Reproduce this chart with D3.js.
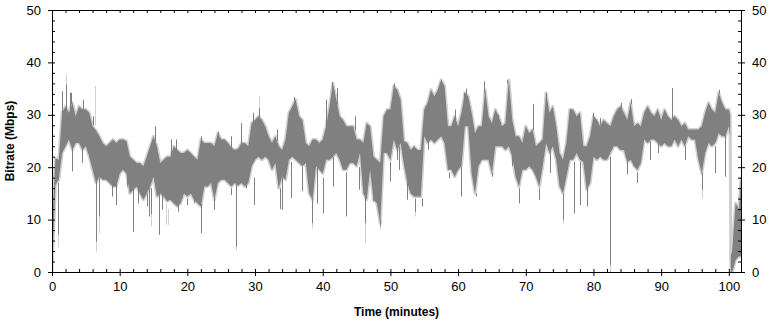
<!DOCTYPE html>
<html>
<head>
<meta charset="utf-8">
<script src="https://cdn.jsdelivr.net/npm/d3@7"></script>
<style>
  body { margin: 0; background: #fff; }
  text { font-family: "Liberation Sans", Arial, sans-serif; }
</style>
</head>
<body>
<div id="chart"></div>
<script>

// bitrate: [minute, band top, band bottom] (Mbps)
var darkBand = [[0,8,0],[0.5,21.7,16.6],[1,21.4,17.6],[1.5,30.4,22.7],[2,31.6,24],[2.5,30.4,25.3],[3,32.3,23.3],[3.5,29.7,24.6],[4,31.6,24.6],[4.5,31,23.3],[5,31,24],[5.5,30.4,22],[6,27.8,19.5],[6.5,27,17],[7,25.9,18.2],[7.5,24.6,17.6],[8,24,17.6],[8.5,24.6,17],[9,25.3,16.3],[9.5,24.6,16.3],[10,25.3,18.8],[10.5,25.3,19.5],[11,25,18.8],[11.5,22,15],[12,21.4,15.7],[12.5,20.8,16.3],[13,20.8,15],[13.5,20.2,13.8],[14,22,15],[14.5,24,16.3],[15,25.9,18.2],[15.5,24,14.4],[16,20.8,15],[16.5,21.4,14.4],[17,22,13.5],[17.5,22,13.8],[18,24,13.1],[18.5,23.3,12.5],[19,22.7,13.1],[19.5,22.7,15],[20,23.3,14.4],[20.5,22.7,15],[21,22,13.8],[21.5,21.4,13.1],[22,25.3,12.5],[22.5,24.6,16.3],[23,24.6,16.3],[23.5,24.6,17],[24,24,13.8],[24.5,26.5,17],[25,25.3,17.6],[25.5,25.3,17.6],[26,24.6,17],[26.5,23.7,16.3],[27,23.3,17],[27.5,23.5,16.5],[28,24.6,17],[28.5,24.6,16.3],[29,24,17],[29.5,28.4,20.2],[30,29,21.4],[30.5,29.7,22],[31,29,21.4],[31.5,27.8,22],[32,25.9,21.4],[32.5,24.6,19.5],[33,25.9,20.8],[33.5,24,16],[34,23.3,18.2],[34.5,25.3,17.6],[35,30.4,21.4],[35.5,31.6,22],[36,32.9,21.4],[36.5,29.7,20.8],[37,29,20.2],[37.5,24.6,20.8],[38,24,15],[38.5,25.3,13.8],[39,25.3,20.2],[39.5,24.6,19.5],[40,25.3,18.8],[40.5,27.8,21.4],[41,31.6,21.4],[41.5,36,22],[42,32.9,22.7],[42.5,29.7,21.4],[43,29,19.5],[43.5,27.8,19.5],[44,27.8,20.8],[44.5,27.8,20.8],[45,25.3,20.2],[45.5,25.3,22.7],[46,24.6,15],[46.5,28.4,13.8],[47,27.8,19.5],[47.5,22,13.8],[48,21.4,13.1],[48.5,20.8,9.3],[49,29.7,22.7],[49.5,31,22.7],[50,31,21.4],[50.5,35.5,25.3],[51,34.8,23.3],[51.5,32.9,24.6],[52,25,20.5],[52.5,24.6,17],[53,23.3,15],[53.5,24,14.4],[54,23.3,14.4],[54.5,23.3,14.4],[55,31,25.9],[55.5,32.3,24.6],[56,34.8,25.3],[56.5,33.5,24.6],[57,34.8,25.3],[57.5,36.7,25.9],[58,35.5,24.6],[58.5,27.8,19.5],[59,27.8,19.5],[59.5,29.7,18.2],[60,27.8,19.5],[60.5,30.4,20.2],[61,34.2,27.8],[61.5,33.5,27.8],[62,30.4,18.8],[62.5,26.5,15],[63,27.8,20.2],[63.5,27.8,21.4],[64,34.8,21.4],[64.5,29.7,21.4],[65,28.4,18.8],[65.5,31,24],[66,29.7,24],[66.5,27.8,24],[67,28.4,23.3],[67.5,36.7,24],[68,29,22],[68.5,25.9,18.2],[69,25.9,16.3],[69.5,24.6,19.5],[70,27.8,19.5],[70.5,26.5,20.2],[71,27.2,19.5],[71.5,24,18.2],[72,24.6,16.3],[72.5,25.3,20.2],[73,34.2,24.6],[73.5,30.4,22.7],[74,31.6,24],[74.5,27.8,21.4],[75,22.7,16.3],[75.5,21.4,15],[76,24.6,18.2],[76.5,31,21.4],[77,31,21.4],[77.5,29.7,22.7],[78,30.4,21.4],[78.5,24,21],[79,24,15.7],[79.5,25.9,17],[80,29.7,22],[80.5,29,21.4],[81,27.8,22],[81.5,29,21.4],[82,28.4,21.4],[82.5,27.8,22.7],[83,29.7,24],[83.5,31,24],[84,31.6,23.3],[84.5,30.4,23.3],[85,29,21],[85.5,32.3,21.4],[86,27.8,20.2],[86.5,28.4,19.5],[87,27.8,20.8],[87.5,30.4,25.3],[88,31.6,24.6],[88.5,30.4,25.3],[89,29.7,25.3],[89.5,31,24.6],[90,29,24],[90.5,31,24.6],[91,29.7,24],[91.5,29,24],[92,29.7,25.3],[92.5,29,24],[93,27.8,25.3],[93.5,28.4,24],[94,27.2,25.9],[94.5,27.2,25.3],[95,27.2,25.3],[95.5,27.2,21.4],[96,27.8,18.8],[96.5,30.4,22.7],[97,32.3,24.6],[97.5,31,24],[98,30.4,24.6],[98.5,34.2,26.5],[99,32.3,25.9],[99.5,31,25.9],[100,31,27.8],[100.2,30,26],[100.3,3,0],[100.5,4.2,0],[101,13.1,2.3],[101.5,12,3],[101.8,18,3]];

// single spikes off the band: [minute, from, to]
var darkSpikes = [[0.9,17,7.1],[1.5,28,34.5],[2.1,31,35.8],[2.6,30,34.2],[2.8,32,34.2],[3,24,19.2],[4.5,24,20.8],[4.6,30,32.9],[6,28,29.7],[6.45,20,5.8],[6.9,18,10.6],[8.8,18,14.4],[9.5,17,12.8],[11.1,19,16.3],[12,16,7.7],[12.7,16,13.1],[14,15,12.5],[14,21,22.4],[14.4,16,10.6],[14.6,16,11],[15.2,25,27.8],[15.8,15,7.1],[16.2,15,11.9],[17.6,21,25.3],[18.3,23,25.3],[18.6,13,11.5],[20,14,12.8],[21,14,13.1],[22,13,7.4],[22,24,25.9],[24,14,11.9],[24.5,26,26.8],[26.4,16,14.7],[26.4,23,25.9],[27.2,17,4.8],[27.9,24,28.4],[28.6,17,16],[29.7,28,30.4],[29.8,18,12.8],[30.6,29,31.3],[33.2,25,27.2],[33.7,16,12],[34,18,11.9],[35.3,21,14.1],[35.7,31,33.4],[37,20,15.4],[38.4,14,9.3],[39.2,20,13.1],[40,18,11.2],[40.5,27,32.9],[41.4,35,36.2],[41.5,22,16.3],[42.1,32,35.1],[43.5,19,10.6],[44.8,27,29.7],[45.3,20,15.7],[46.2,15,9.3],[47.4,14,13.5],[48,13,13.8],[48.4,10,8.7],[50,21,17.3],[50.6,35,36],[51,25,21.4],[51.3,24,19.5],[52.5,17,13.8],[53.6,14,11.5],[54.6,14,12.5],[55.6,25,23.3],[57.5,36,36.6],[58.7,19,17.9],[59.6,29,31],[60.4,20,14.4],[60.9,30,34.2],[61.2,33,35],[62.7,15,14.4],[63.9,34,36.4],[65,19,18.2],[65.9,29,30],[67.3,36,36.6],[68,22,20.2],[69,16,13.1],[71.1,27,32],[72,16,13.8],[73,33,34.2],[73.6,23,18.9],[75.5,15,9.9],[76.6,30,31],[77.1,21,11.2],[78,21,12.8],[79,16,12.5],[79.9,29,30.4],[80.9,28,29.4],[82.4,22,1.3],[84,31,32.3],[85,21,18.6],[85.5,32,33],[86.5,19,17],[88.3,25,21.4],[89.5,25,22.7],[91.6,29,35.1],[93.5,24,21.4],[96.1,19,15.7],[98,24,18.9],[98.6,34,34.8],[99.4,26,18.2],[101.8,4,18.2]];
var lightSpikes = [[0.9,7,4.8],[2.1,35.8,37.7],[6.45,5.8,3.9],[6.4,28,35.5],[6.9,10.6,7.4],[14.6,11,8.7],[16.9,13,9],[17.2,12,9],[27.2,4.8,4.2],[30.6,31,33.5],[38.4,9.3,8.3],[46.2,9.3,5.5],[48.4,8.7,8.1],[53.6,12,10.6],[75.5,10,9.2],[82.4,1.3,0],[96.1,15.7,14]];

var xTicks = [0, 10, 20, 30, 40, 50, 60, 70, 80, 90, 100];
var yTicks = [0, 10, 20, 30, 40, 50];
var xLabel = 'Time (minutes)';
var yLabel = 'Bitrate (Mbps)';

var W = 774, H = 321;
var margin = { left: 52, right: 741, top: 10, bottom: 272 };

var svg = d3.select('#chart').append('svg')
    .attr('width', W)
    .attr('height', H);

var xScale = d3.scaleLinear().domain([0, 101.8]).range([margin.left, margin.right]);
var yScale = d3.scaleLinear().domain([0, 50]).range([margin.bottom, margin.top]);

var xMinor = d3.range(0, 101, 2);
var yMinor = d3.range(0, 51, 2);

svg.append('clipPath').attr('id', 'plot')
    .append('rect')
    .attr('x', margin.left).attr('y', margin.top)
    .attr('width', margin.right - margin.left).attr('height', margin.bottom - margin.top);

var plot = svg.append('g').attr('clip-path', 'url(#plot)');

var band = d3.area()
    .x(d => xScale(d[0]))
    .y0(d => yScale(d[2]))
    .y1(d => yScale(d[1]));

// light fringe round the band
plot.append('path')
    .datum(darkBand)
    .attr('fill', '#d0d0d0')
    .attr('stroke', '#d0d0d0')
    .attr('stroke-width', 3)
    .attr('stroke-linejoin', 'round')
    .attr('d', band);

plot.selectAll('line.lspike').data(lightSpikes)
    .enter().append('line')
    .attr('class', 'lspike')
    .attr('x1', d => Math.round(xScale(d[0])) + 0.5)
    .attr('x2', d => Math.round(xScale(d[0])) + 0.5)
    .attr('y1', d => yScale(d[1]))
    .attr('y2', d => yScale(d[2]))
    .attr('stroke', '#d0d0d0');

plot.append('path')
    .datum(darkBand)
    .attr('fill', '#808080')
    .attr('d', band);

plot.selectAll('line.dspike').data(darkSpikes)
    .enter().append('line')
    .attr('class', 'dspike')
    .attr('x1', d => Math.round(xScale(d[0])) + 0.5)
    .attr('x2', d => Math.round(xScale(d[0])) + 0.5)
    .attr('y1', d => yScale(d[1]))
    .attr('y2', d => yScale(d[2]))
    .attr('stroke', '#808080');

// axes: labelled outward ticks, plus inward minor ticks on all four sides
function noDomain(g) { g.select('.domain').remove(); }

svg.append('g')
    .attr('transform', 'translate(' + margin.left + ',0)')
    .call(d3.axisLeft(yScale).tickValues(yTicks).tickSize(4).tickPadding(7))
    .call(noDomain);
svg.append('g')
    .attr('transform', 'translate(' + margin.left + ',0)')
    .call(d3.axisRight(yScale).tickValues(yMinor).tickSize(3).tickFormat(''))
    .call(noDomain);

svg.append('g')
    .attr('transform', 'translate(' + margin.right + ',0)')
    .call(d3.axisRight(yScale).tickValues(yTicks).tickSize(4).tickPadding(7))
    .call(noDomain);
svg.append('g')
    .attr('transform', 'translate(' + margin.right + ',0)')
    .call(d3.axisLeft(yScale).tickValues(yMinor).tickSize(3).tickFormat(''))
    .call(noDomain);

svg.append('g')
    .attr('transform', 'translate(0,' + margin.bottom + ')')
    .call(d3.axisBottom(xScale).tickValues(xTicks).tickSize(4).tickPadding(6))
    .call(noDomain);
svg.append('g')
    .attr('transform', 'translate(0,' + margin.bottom + ')')
    .call(d3.axisTop(xScale).tickValues(xMinor).tickSize(3).tickFormat(''))
    .call(noDomain);

svg.append('g')
    .attr('transform', 'translate(0,' + margin.top + ')')
    .call(d3.axisBottom(xScale).tickValues(xMinor).tickSize(3).tickFormat(''))
    .call(noDomain);

svg.selectAll('.tick text')
    .attr('font-size', 13)
    .attr('font-family', '"Liberation Sans", Arial, sans-serif')
    .attr('fill', '#000');
svg.selectAll('.tick line').attr('stroke', '#000');

svg.append('rect')
    .attr('x', margin.left + 0.5).attr('y', margin.top + 0.5)
    .attr('width', margin.right - margin.left).attr('height', margin.bottom - margin.top)
    .attr('fill', 'none')
    .attr('stroke', '#000');

svg.append('text')
    .attr('x', (margin.left + margin.right) / 2)
    .attr('y', 316)
    .attr('text-anchor', 'middle')
    .attr('font-size', 12)
    .attr('font-weight', 'bold')
    .text(xLabel);

svg.append('text')
    .attr('transform', 'translate(14,' + (margin.top + margin.bottom) / 2 + ') rotate(-90)')
    .attr('text-anchor', 'middle')
    .attr('font-size', 12)
    .attr('font-weight', 'bold')
    .text(yLabel);

</script>
</body>
</html>
